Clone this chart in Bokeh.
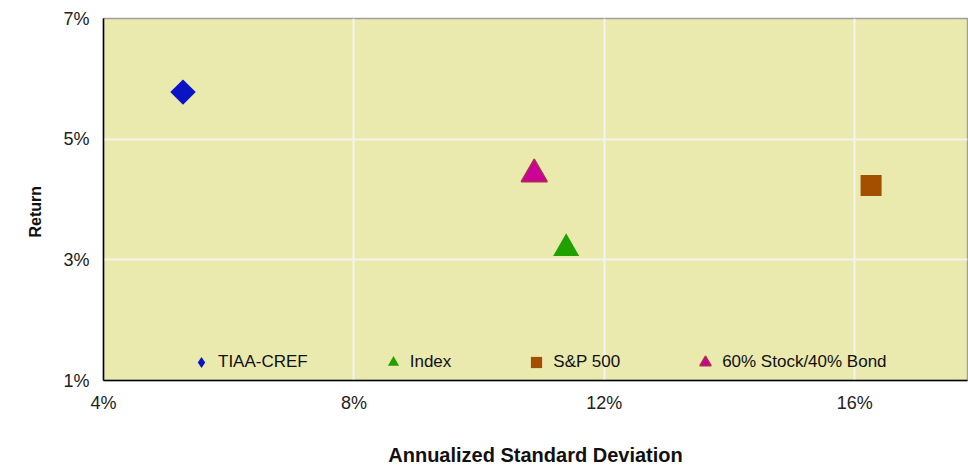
import math
from bokeh.plotting import figure
from bokeh.models import Range1d, FixedTicker, Legend, LegendItem, Title
from bokeh.embed import file_html
from bokeh.resources import INLINE

# ---- data ----
series = ["TIAA-CREF", "Index", "S&P 500", "60% Stock/40% Bond"]
std_dev = [5.27, 11.39, 16.26, 10.88]      # Annualized Standard Deviation (%)
returns = [5.78, 3.19, 4.23, 4.42]         # Return (%)
x_ticks = [4, 8, 12, 16]
x_tick_labels = ["4%", "8%", "12%", "16%"]
y_ticks = [1, 3, 5, 7]
y_tick_labels = ["1%", "3%", "5%", "7%"]

# ---- styles ----
markers = ["square", "triangle", "square", "triangle"]
angles = [math.pi / 4, 0, 0, 0]
sizes = [18, 26, 21, 26]
fills = ["#0A14C6", "#22A000", "#A44E00", "#CC0099"]
lines = ["#0A14C6", "#22A000", "#A44E00", "#A8304C"]
line_widths = [0, 0, 0, 1.5]

FONT = "Liberation Sans"

p = figure(width=968, height=468, output_backend="svg", toolbar_location=None,
           x_range=Range1d(4, 17.8), y_range=Range1d(1, 7),
           min_border_left=103, min_border_right=1, min_border_top=18, min_border_bottom=88)
p.background_fill_color = "#EAE9AE"
p.border_fill_color = "white"
p.outline_line_color = "#A0A0A0"
p.outline_line_width = 1.5

for ax, ticks, labels in ((p.xaxis[0], x_ticks, x_tick_labels), (p.yaxis[0], y_ticks, y_tick_labels)):
    ax.ticker = FixedTicker(ticks=ticks)
    ax.major_label_overrides = {t: l for t, l in zip(ticks, labels)}
    ax.major_tick_line_color = None
    ax.minor_tick_line_color = None
    ax.axis_line_color = "black"
    ax.axis_line_width = 1.5
    ax.major_label_text_font = FONT
    ax.major_label_text_font_size = "18px"
    ax.major_label_text_color = "#222222"
    ax.axis_label_text_font = FONT
    ax.axis_label_text_font_style = "bold"
    ax.axis_label_text_color = "#111111"

p.xaxis.axis_label = "Annualized Standard Deviation"
p.xaxis.axis_label_text_font_size = "20px"
p.xaxis.major_label_standoff = 6
p.xaxis.axis_label_standoff = 28
p.yaxis.major_label_standoff = 8

# y-axis title (sits a little below the frame centre, as in the reference)
p.add_layout(Title(text="Return", align="left", offset=143, standoff=30,
                   vertical_align="top", text_line_height=2.0,
                   text_font=FONT, text_font_style="bold", text_font_size="16px",
                   text_color="#111111"), "left")

p.grid.grid_line_color = "#F4F4EE"
p.grid.grid_line_width = 2
p.xgrid.ticker = FixedTicker(ticks=x_ticks)
p.ygrid.ticker = FixedTicker(ticks=y_ticks)

items = []
for i, name in enumerate(series):
    legend_r = None
    if i == 0:
        # diamond underlay (fully covered by the rotated square) used as legend glyph
        legend_r = p.scatter([std_dev[i]], [returns[i]], marker="diamond", size=24,
                             fill_color=fills[i], line_color=None)
    r = p.scatter([std_dev[i]], [returns[i]], marker=markers[i], size=sizes[i], angle=angles[i],
                  fill_color=fills[i], line_color=lines[i], line_width=line_widths[i])
    items.append(LegendItem(label=name, renderers=[legend_r or r]))

legend = Legend(items=items, orientation="horizontal", location=(84, 4),
                background_fill_alpha=0, border_line_color=None, padding=0, margin=0,
                spacing=71, label_standoff=3, glyph_width=28, glyph_height=28,
                label_text_font=FONT, label_text_font_size="17px", label_text_color="#111111")
p.add_layout(legend, "center")

open("out.html", "w").write(file_html(p, INLINE))
